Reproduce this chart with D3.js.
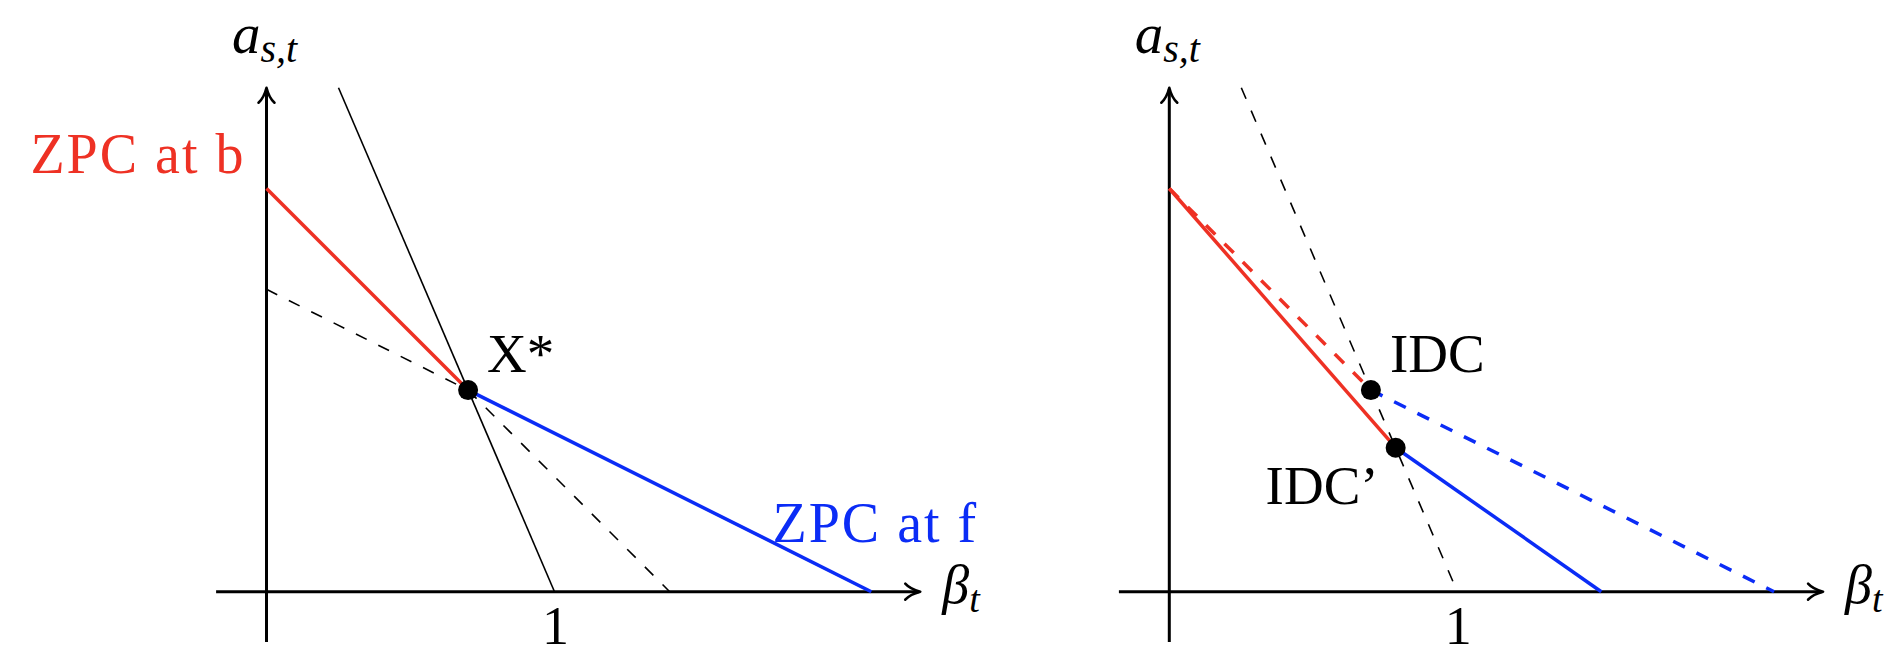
<!DOCTYPE html>
<html>
<head>
<meta charset="utf-8">
<script src="https://cdn.jsdelivr.net/npm/d3@7"></script>
<style>
  html, body { margin: 0; padding: 0; background: #ffffff; }
  svg { display: block; }
  text { font-family: "Liberation Serif", "Times New Roman", serif; fill: #000; }
</style>
</head>
<body>
<svg id="chart" width="1904" height="670"></svg>
<script>
// ---------- data (chart coordinates, 1 = tick "1") ----------
const xAxisExtent = [-0.175, 2.27];
const yAxisExtent = [-0.175, 1.75];
const tickValues = [1];
const tickLabels = ["1"];

// left panel
const leftRed = [[0, 1.4], [0.7, 0.7]];
const leftBlue = [[0.7, 0.7], [2.1, 0]];
const leftBlack = [[0.25, 1.75], [1, 0]];
const leftRedExt = [[0.7, 0.7], [1.4, 0]];
const leftBlueExt = [[0, 1.05], [0.7, 0.7]];
const leftPoints = [[0.7, 0.7]];
const leftPointLabels = ["X*"];

// right panel
const rightRedSolid = [[0, 1.4], [0.786, 0.5]];
const rightBlueSolid = [[0.786, 0.5], [1.5, 0]];
const rightRedDashed = [[0, 1.4], [0.7, 0.7]];
const rightBlueDashed = [[0.7, 0.7], [2.1, 0]];
const rightBlackDashed = [[0.25, 1.75], [1, 0]];
const rightPoints = [[0.7, 0.7], [0.786, 0.5]];
const rightPointLabels = ["IDC", "IDC’"];

const curveLabels = ["ZPC at b", "ZPC at f"];

// ---------- styling ----------
const RED = "#ee3124";
const BLUE = "#0b2cf6";
const unit = 288;
const originY = 591.7;

const svg = d3.select("#chart");

function panel(originX) {
  const g = svg.append("g");
  const x = d3.scaleLinear().domain([0, 1]).range([originX, originX + unit]);
  const y = d3.scaleLinear().domain([0, 1]).range([originY, originY - unit]);
  const line = d3.line().x(d => x(d[0])).y(d => y(d[1]));
  return { g, x, y, line };
}

function drawSeg(p, data, color, width, dash) {
  const path = p.g.append("path")
    .attr("d", p.line(data))
    .attr("fill", "none")
    .attr("stroke", color)
    .attr("stroke-width", width);
  if (dash) path.attr("stroke-dasharray", dash);
  return path;
}

function arrowHead(g, tx, ty, angle) {
  g.append("path")
    .attr("d", "M-15,-8 C-11,-3.5 -4,-1 0,0 C-4,1 -11,3.5 -15,8")
    .attr("transform", `translate(${tx},${ty}) rotate(${angle})`)
    .attr("fill", "none")
    .attr("stroke", "#000")
    .attr("stroke-width", 2.6)
    .attr("stroke-linecap", "round")
    .attr("stroke-linejoin", "round");
}

function axes(p) {
  const { g, x, y } = p;
  // x axis
  g.append("line")
    .attr("x1", x(xAxisExtent[0])).attr("x2", x(xAxisExtent[1]) - 1.5)
    .attr("y1", y(0)).attr("y2", y(0))
    .attr("stroke", "#000").attr("stroke-width", 3);
  arrowHead(g, x(xAxisExtent[1]), y(0), 0);
  // y axis
  g.append("line")
    .attr("x1", x(0)).attr("x2", x(0))
    .attr("y1", y(yAxisExtent[0])).attr("y2", y(yAxisExtent[1]) + 1.5)
    .attr("stroke", "#000").attr("stroke-width", 3);
  arrowHead(g, x(0), y(yAxisExtent[1]), -90);

  // tick labels
  g.selectAll("text.tick").data(tickValues).enter().append("text")
    .attr("class", "tick")
    .attr("x", d => x(d) + 1)
    .attr("y", y(0) + 52)
    .attr("text-anchor", "middle")
    .attr("font-size", 54)
    .text((d, i) => tickLabels[i]);

  // y-axis title a_{s,t}
  const yt = g.append("text")
    .attr("x", x(0) - 2)
    .attr("y", y(yAxisExtent[1]) - 35)
    .attr("text-anchor", "middle")
    .attr("font-style", "italic");
  yt.append("tspan").attr("font-size", 57).text("a");
  yt.append("tspan").attr("font-size", 40).attr("dy", 9).text("s,t");

  // x-axis title beta_t
  const xt = g.append("text")
    .attr("x", x(xAxisExtent[1]) + 22)
    .attr("y", y(0) + 11)
    .attr("font-style", "italic");
  xt.append("tspan").attr("font-size", 54).text("β");
  xt.append("tspan").attr("font-size", 38).attr("dy", 9).text("t");
}

function dots(p, pts) {
  p.g.selectAll("circle.pt").data(pts).enter().append("circle")
    .attr("class", "pt")
    .attr("cx", d => p.x(d[0]))
    .attr("cy", d => p.y(d[1]))
    .attr("r", 10)
    .attr("fill", "#000");
}

// ---------- left panel ----------
const L = panel(266.5);
axes(L);
drawSeg(L, leftBlueExt, "#000", 1.6, "12,13");
drawSeg(L, leftRedExt, "#000", 1.6, "12,13");
drawSeg(L, leftBlack, "#000", 1.6);
drawSeg(L, leftRed, RED, 3.5);
drawSeg(L, leftBlue, BLUE, 3.5);
dots(L, leftPoints);

L.g.append("text")
  .attr("x", L.x(leftPoints[0][0]) + 19)
  .attr("y", L.y(leftPoints[0][1]) - 18)
  .attr("font-size", 55)
  .text(leftPointLabels[0]);

L.g.append("text")
  .attr("x", L.x(0) - 21)
  .attr("y", L.y(leftRed[0][1]) - 16)
  .attr("text-anchor", "end")
  .attr("font-size", 56)
  .attr("letter-spacing", 2)
  .style("fill", RED)
  .text(curveLabels[0]);

L.g.append("text")
  .attr("x", L.x(1.75) + 2)
  .attr("y", L.y(0) - 50)
  .attr("font-size", 56)
  .attr("letter-spacing", 2)
  .style("fill", BLUE)
  .text(curveLabels[1]);

// ---------- right panel ----------
const R = panel(1169.3);
axes(R);
drawSeg(R, rightBlackDashed, "#000", 1.6, "12,13");
drawSeg(R, rightRedDashed, RED, 3.5, "13,13");
drawSeg(R, rightBlueDashed, BLUE, 3.5, "13,13");
drawSeg(R, rightRedSolid, RED, 3.5);
drawSeg(R, rightBlueSolid, BLUE, 3.5);
dots(R, rightPoints);

R.g.append("text")
  .attr("x", R.x(rightPoints[0][0]) + 19)
  .attr("y", R.y(rightPoints[0][1]) - 18)
  .attr("font-size", 55)
  .text(rightPointLabels[0]);

R.g.append("text")
  .attr("x", R.x(rightPoints[1][0]) - 17)
  .attr("y", R.y(rightPoints[1][1]) + 56)
  .attr("text-anchor", "end")
  .attr("font-size", 55)
  .text(rightPointLabels[1]);
</script>
</body>
</html>
